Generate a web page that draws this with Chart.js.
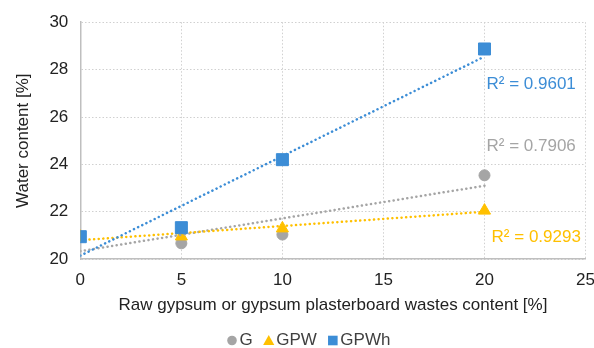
<!DOCTYPE html>
<html>
<head>
<meta charset="utf-8">
<script src="https://cdn.jsdelivr.net/npm/chart.js@4"></script>
<style>
  html, body { margin: 0; padding: 0; background: #fff; overflow: hidden; }
  #wrap { width: 594px; height: 348px; overflow: hidden; }
</style>
</head>
<body>
<div id="wrap"><canvas id="chart" width="606" height="348"></canvas></div>
<script>
'use strict';

// content of wastes [%]
var xValues = [0, 5, 10, 20];

// water content [%]
var gValues = [20.95, 20.67, 21.04, 23.54];
var gpwValues = [20.95, 20.96, 21.3, 22.05];
var gpwhValues = [20.95, 21.33, 24.2, 28.87];

// linear trendlines, value at x = 0 and x = 20
var trendX = [0, 20];
var gTrend = [20.34, 23.1];
var gpwTrend = [20.8, 22.0];
var gpwhTrend = [20.15, 28.55];

var r2Labels = ['R² = 0.7906', 'R² = 0.9293', 'R² = 0.9601'];
var r2Pos = [[20.1, 24.75], [20.35, 20.92], [20.1, 27.4]];

var xTicks = [0, 5, 10, 15, 20, 25];
var yTicks = [20, 22, 24, 26, 28, 30];

var grey = '#a5a5a5';
var yellow = '#ffc000';
var blue = '#3c8dd6';
var r2Colors = [grey, yellow, blue];
var fontStr = '17px "Liberation Sans", Arial, sans-serif';

function pts(xs, ys) {
    return xs.map(function(x, i) { return { x: x, y: ys[i] }; });
}

function trend(ys, color, order) {
    return {
        type: 'line',
        label: 'trend',
        data: pts(trendX, ys),
        borderColor: color,
        borderWidth: 2.5,
        borderDash: [0.1, 4.5],
        borderCapStyle: 'round',
        pointRadius: 0,
        fill: false,
        order: order
    };
}

var r2Plugin = {
    id: 'r2',
    afterDatasetsDraw: function(chart) {
        var ctx = chart.ctx;
        var xs = chart.scales.x, ys = chart.scales.y;
        ctx.save();
        ctx.font = fontStr;
        ctx.textAlign = 'left';
        ctx.textBaseline = 'middle';
        r2Labels.forEach(function(t, i) {
            ctx.fillStyle = r2Colors[i];
            ctx.fillText(t, xs.getPixelForValue(r2Pos[i][0]), ys.getPixelForValue(r2Pos[i][1]));
        });
        ctx.restore();
    }
};

// legend drawn by hand: marker close to its text, as in the original
var legendShapes = ['circle', 'triangle', 'rect'];
var legendColors = [grey, yellow, blue];

var legendPlugin = {
    id: 'bottomLegend',
    afterDraw: function(chart) {
        var ctx = chart.ctx;
        var y = chart.height - 7.5;
        var cx = 232;
        ctx.save();
        ctx.font = fontStr;
        ctx.textAlign = 'left';
        ctx.textBaseline = 'middle';
        chart.data.datasets.slice(0, 3).forEach(function(ds, i) {
            ctx.fillStyle = legendColors[i];
            ctx.beginPath();
            if (legendShapes[i] === 'circle') {
                ctx.arc(cx, y, 4.8, 0, Math.PI * 2);
            } else if (legendShapes[i] === 'triangle') {
                ctx.moveTo(cx, y - 5.5);
                ctx.lineTo(cx + 5.6, y + 4.5);
                ctx.lineTo(cx - 5.6, y + 4.5);
                ctx.closePath();
            } else {
                ctx.rect(cx - 4.8, y - 4.8, 9.6, 9.6);
            }
            ctx.fill();
            ctx.fillStyle = '#404040';
            ctx.fillText(ds.label, cx + 7.5, y);
            cx += 7.5 + ctx.measureText(ds.label).width + 16;
        });
        ctx.restore();
    }
};

var font = { family: '"Liberation Sans", Arial, sans-serif', size: 17 };

var ctx = document.getElementById('chart').getContext('2d');
var chart = new Chart(ctx, {
    type: 'scatter',
    data: {
        datasets: [
            {
                label: 'G',
                data: pts(xValues, gValues),
                backgroundColor: grey,
                borderColor: grey,
                pointStyle: 'circle',
                pointRadius: 5.5,
                order: 6
            },
            {
                label: 'GPW',
                data: pts(xValues, gpwValues),
                backgroundColor: yellow,
                borderColor: yellow,
                pointStyle: 'triangle',
                pointRadius: 7,
                order: 5
            },
            {
                label: 'GPWh',
                data: pts(xValues, gpwhValues),
                backgroundColor: blue,
                borderColor: blue,
                pointStyle: 'rect',
                pointRadius: 8.5,
                order: 1
            },
            trend(gTrend, grey, 4),
            trend(gpwTrend, yellow, 3),
            trend(gpwhTrend, blue, 2)
        ]
    },
    options: {
        responsive: false,
        animation: false,
        layout: { padding: { left: 13, right: 0, top: 6, bottom: 24 } },
        plugins: {
            tooltip: { enabled: false },
            legend: { display: false }
        },
        scales: {
            x: {
                type: 'linear',
                min: 0,
                max: 25,
                afterBuildTicks: function(s) { s.ticks = xTicks.map(function(v) { return { value: v }; }); },
                grid: { color: '#d0d0d0', drawTicks: false },
                border: { color: '#bfbfbf', width: 1.5, dash: [1.5, 2] },
                ticks: { color: '#222', font: font, padding: 11 },
                title: {
                    display: true,
                    text: 'Raw gypsum or gypsum plasterboard wastes content [%]',
                    color: '#222',
                    font: font,
                    padding: { top: -6, bottom: 8 }
                }
            },
            y: {
                type: 'linear',
                min: 20,
                max: 30,
                afterBuildTicks: function(s) { s.ticks = yTicks.map(function(v) { return { value: v }; }); },
                grid: { color: '#d0d0d0', drawTicks: false },
                border: { color: '#bfbfbf', width: 1.5, dash: [1.5, 2] },
                ticks: { color: '#222', font: font, padding: 12 },
                title: {
                    display: true,
                    text: 'Water content [%]',
                    color: '#222',
                    font: font,
                    padding: { top: 0, bottom: 4 }
                }
            }
        }
    },
    plugins: [r2Plugin, legendPlugin]
});
</script>
</body>
</html>
